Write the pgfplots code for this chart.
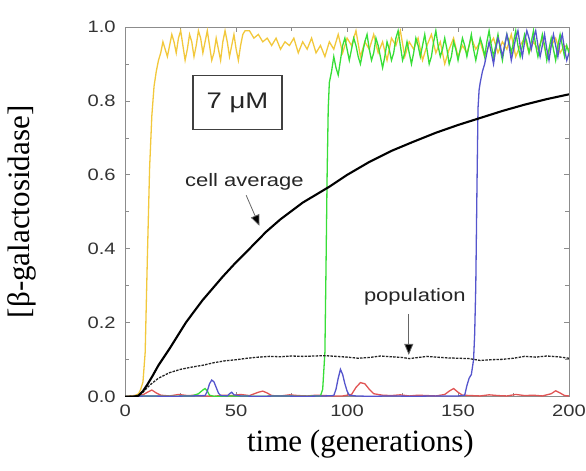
\documentclass[border=0pt]{standalone}
\usepackage{pgfplots}
\pgfplotsset{compat=1.18}
\usepackage{fontspec}
\setmainfont{Liberation Serif}
\newfontfamily\arial[FakeStretch=1.22]{Liberation Sans}
\usetikzlibrary{calc,arrows.meta}
\definecolor{cyel}{RGB}{242,200,60}
\definecolor{cgrn}{RGB}{55,222,55}
\definecolor{cblu}{RGB}{85,85,205}
\definecolor{cred}{RGB}{225,85,85}
\definecolor{axgray}{RGB}{140,140,140}
\begin{document}
\begin{tikzpicture}
\begin{axis}[name=ax,
  scale only axis, width=443pt, height=369pt,
  xmin=0, xmax=200, ymin=0, ymax=1,
  xtick={0,50,100,150,200}, minor x tick num=1,
  ytick={0,0.2,0.4,0.6,0.8,1.0}, minor y tick num=1,
  tick align=inside, major tick length=5pt, minor tick length=4pt,
  axis line style={axgray, line width=0.8pt},
  every tick/.style={axgray, line width=0.8pt},
  /pgf/number format/assume math mode=true,
  ticklabel style={font=\arial\fontsize{16.5}{20}\selectfont, text=black!80},
  xticklabel style={yshift=-5pt},
  yticklabel style={/pgf/number format/fixed, /pgf/number format/fixed zerofill, /pgf/number format/precision=1, xshift=-6pt},
  xlabel={time (generations)},
  ylabel={[β-galactosidase]},
  label style={font=\fontsize{31}{36}\selectfont},
  xlabel style={at={(axis description cs:0.53,-0.128)}, anchor=center},
  ylabel style={at={(axis description cs:-0.233,0.5)}, anchor=center},
]
% red
\addplot[cred, line width=1.3pt] coordinates {(0,0) (4,0.003) (8,0.005) (10,0.012) (12,0.018) (14,0.01) (16,0.004) (20,0.002) (24,0.006) (28,0.003) (32,0.004) (36,0.002) (40,0.001) (44,0.004) (48,0.003) (52,0.006) (56,0.003) (60,0.012) (62,0.015) (64,0.01) (66,0.003) (70,0.002) (74,0.005) (78,0.003) (82,0.002) (86,0.004) (90,0.003) (94,0.002) (98,0.002) (102,0.006) (104,0.025) (106,0.038) (108,0.035) (110,0.02) (112,0.008) (116,0.004) (120,0.003) (124,0.005) (128,0.002) (132,0.004) (136,0.003) (140,0.002) (144,0.006) (146,0.015) (148,0.022) (150,0.012) (152,0.004) (156,0.003) (160,0.002) (164,0.005) (168,0.003) (172,0.002) (176,0.006) (180,0.003) (184,0.004) (188,0.002) (192,0.008) (194,0.016) (196,0.01) (198,0.003) (200,0.002)};
% yellow
\addplot[cyel, line width=1.3pt] coordinates {(0,0) (4,0.002) (6,0.008) (7,0.02) (8,0.04) (9,0.12) (10,0.38) (11,0.62) (12,0.76) (13,0.84) (14,0.88) (15,0.91) (16,0.93) (17,0.96) (18,0.94) (19,0.92) (20,0.95) (21,0.98) (22,0.96) (23,0.93) (24,0.97) (25,0.99) (26,0.95) (27,0.91) (28,0.94) (29,0.98) (30,0.96) (31,0.92) (32,0.95) (33,0.99) (34,0.97) (35,0.93) (36,0.96) (37,0.99) (38,0.95) (39,0.91) (40,0.93) (41,0.97) (42,0.94) (43,0.91) (44,0.96) (45,0.99) (46,0.96) (47,0.92) (48,0.95) (49,0.98) (50,0.94) (51,0.91) (52,0.95) (53,0.98) (54,0.99) (56,0.99) (58,0.97) (60,0.98) (62,0.96) (64,0.97) (66,0.95) (68,0.97) (70,0.94) (72,0.96) (74,0.95) (76,0.97) (78,0.93) (80,0.96) (82,0.94) (84,0.97) (86,0.93) (88,0.95) (90,0.92) (92,0.96) (94,0.94) (96,0.98) (98,0.93) (100,0.97) (102,0.95) (104,0.99) (106,0.92) (108,0.96) (110,0.94) (112,0.98) (114,0.93) (116,0.96) (118,0.91) (120,0.97) (122,0.95) (124,0.99) (126,0.92) (128,0.96) (130,0.94) (132,0.97) (134,0.91) (136,0.95) (138,0.98) (140,0.93) (142,0.96) (144,0.90) (146,0.94) (148,0.97) (150,0.92) (152,0.95) (154,0.93) (156,0.97) (158,0.94) (160,0.96) (162,0.92) (164,0.95) (166,0.97) (168,0.93) (170,0.96) (172,0.94) (174,0.98) (176,0.92) (178,0.95) (180,0.97) (182,0.93) (184,0.96) (186,0.94) (188,0.97) (190,0.92) (192,0.95) (194,0.97) (196,0.93) (198,0.95) (200,0.94)};
% green
\addplot[cgrn, line width=1.3pt] coordinates {(0,0) (10,0.002) (20,0.001) (30,0.002) (33,0.008) (35,0.018) (36,0.022) (37,0.015) (38,0.004) (40,0.001) (50,0.002) (60,0.001) (70,0.002) (80,0.001) (88,0.002) (89,0.02) (90,0.12) (90.5,0.35) (91,0.6) (91.5,0.78) (92,0.85) (93,0.88) (94,0.92) (95,0.89) (96,0.87) (97,0.91) (98,0.95) (99,0.97) (100,0.94) (101,0.91) (102,0.94) (103,0.97) (104,0.95) (105,0.92) (106,0.90) (107,0.93) (108,0.96) (109,0.98) (110,0.94) (111,0.91) (112,0.93) (113,0.97) (114,0.95) (115,0.92) (116,0.89) (117,0.92) (118,0.96) (119,0.94) (120,0.91) (121,0.93) (122,0.97) (123,0.99) (124,0.95) (125,0.91) (126,0.93) (127,0.96) (128,0.93) (129,0.90) (130,0.93) (131,0.97) (132,0.95) (133,0.92) (134,0.95) (135,0.98) (136,0.94) (137,0.90) (138,0.92) (139,0.96) (140,0.99) (141,0.95) (142,0.92) (143,0.94) (144,0.97) (145,0.94) (146,0.90) (147,0.92) (148,0.96) (149,0.94) (150,0.91) (151,0.94) (152,0.97) (153,0.95) (154,0.92) (155,0.95) (156,0.98) (157,0.94) (158,0.91) (159,0.94) (160,0.97) (161,0.95) (162,0.92) (163,0.96) (164,0.99) (165,0.95) (166,0.92) (167,0.95) (168,0.98) (169,0.94) (170,0.91) (171,0.95) (172,0.98) (173,0.96) (174,0.93) (175,0.96) (176,0.99) (177,0.95) (178,0.92) (179,0.95) (180,0.98) (181,0.96) (182,0.93) (183,0.96) (184,0.99) (185,0.95) (186,0.92) (187,0.95) (188,0.98) (189,0.95) (190,0.91) (191,0.94) (192,0.97) (193,0.94) (194,0.91) (195,0.95) (196,0.98) (197,0.95) (198,0.92) (199,0.95) (200,0.93)};
% blue
\addplot[cblu, line width=1.3pt] coordinates {(0,0) (10,0.002) (20,0.001) (30,0.002) (36,0.003) (37,0.015) (38,0.035) (39,0.045) (40,0.04) (41,0.025) (42,0.01) (43,0.003) (46,0.002) (47,0.008) (48,0.012) (49,0.005) (52,0.002) (60,0.001) (70,0.002) (80,0.001) (90,0.002) (94,0.003) (95,0.02) (96,0.05) (97,0.074) (98,0.06) (99,0.035) (100,0.015) (101,0.004) (104,0.002) (110,0.001) (120,0.002) (130,0.001) (140,0.002) (150,0.002) (153,0.004) (154,0.03) (155,0.05) (156,0.06) (157,0.1) (157.5,0.17) (158,0.3) (158.5,0.55) (159,0.78) (159.5,0.83) (160,0.85) (161,0.88) (162,0.9) (163,0.93) (164,0.96) (165,0.93) (166,0.90) (167,0.94) (168,0.97) (169,0.95) (170,0.92) (171,0.95) (172,0.98) (173,0.95) (174,0.91) (175,0.94) (176,0.97) (177,0.99) (178,0.95) (179,0.92) (180,0.96) (181,0.99) (182,0.97) (183,0.94) (184,0.97) (185,0.99) (186,0.95) (187,0.92) (188,0.95) (189,0.98) (190,0.94) (191,0.91) (192,0.95) (193,0.98) (194,0.95) (195,0.92) (196,0.96) (197,0.98) (198,0.94) (199,0.91) (200,0.93)};
% population
\addplot[black!85, line width=1.3pt, dash pattern=on 2.5pt off 1.2pt] coordinates {(0,0) (6,0.002) (8,0.012) (10,0.025) (12,0.036) (15,0.05) (20,0.065) (25,0.074) (30,0.08) (35,0.085) (40,0.092) (45,0.097) (50,0.1) (55,0.104) (60,0.107) (65,0.109) (70,0.108) (75,0.11) (80,0.109) (85,0.11) (90,0.111) (95,0.109) (100,0.107) (105,0.104) (110,0.106) (115,0.11) (120,0.108) (125,0.106) (128,0.103) (132,0.106) (136,0.109) (140,0.107) (145,0.105) (150,0.104) (155,0.103) (160,0.098) (165,0.1) (170,0.101) (175,0.104) (180,0.109) (185,0.107) (190,0.11) (195,0.108) (200,0.104)};
% cell average
\addplot[black, line width=2.1pt] coordinates {(0,0) (4,0) (6,0.003) (8,0.015) (10,0.033) (12.3,0.056) (15,0.085) (20,0.13) (25,0.178) (27.4,0.201) (30,0.222) (35,0.262) (38,0.283) (44,0.325) (50,0.364) (56,0.4) (63.5,0.446) (70,0.48) (80,0.525) (92,0.568) (100,0.6) (110,0.635) (120,0.665) (130,0.69) (140,0.714) (150,0.735) (160,0.754) (170,0.773) (180,0.79) (190,0.805) (200,0.818)};
% annotations
\node[draw=black!75, line width=1.5pt, minimum width=89pt, minimum height=54pt, inner sep=0pt, font=\arial\fontsize{22.5}{27}\selectfont, text=black!85] at (axis cs:50.6,0.796) {7 μM};
\node[font=\arial\fontsize{18}{22}\selectfont, text=black!85] at (axis cs:53.7,0.582) {cell average};
\node[font=\arial\fontsize{18}{22}\selectfont, text=black!85] at (axis cs:130.5,0.269) {population};
\draw[black!60, line width=0.8pt, -{Triangle[length=11pt,width=9pt,fill=black]}] (axis cs:54.5,0.545) -- (axis cs:60.5,0.462);
\draw[black!60, line width=0.8pt, -{Triangle[length=11pt,width=9pt,fill=black]}] (axis cs:127.8,0.224) -- (axis cs:127.8,0.113);
\end{axis}
\pgfresetboundingbox
\path[use as bounding box] ($(ax.south west)+(-125pt,-74pt)$) rectangle ($(ax.north east)+(17pt,27pt)$);
\end{tikzpicture}
\end{document}
